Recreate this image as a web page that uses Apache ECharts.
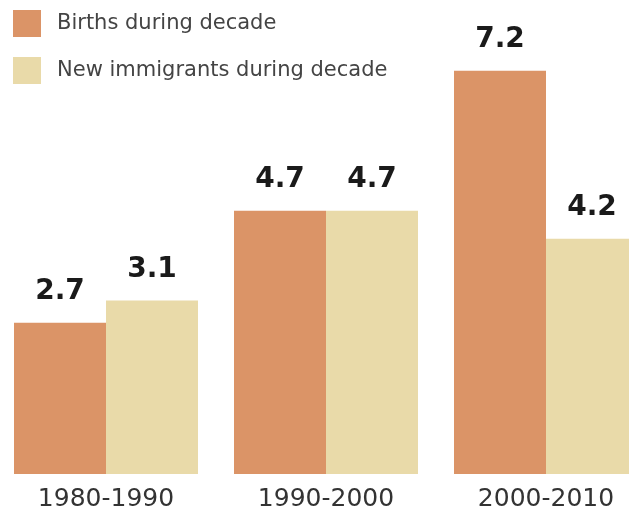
<!DOCTYPE html>
<html>
<head>
<meta charset="utf-8">
<script src="https://cdn.jsdelivr.net/npm/echarts@6/dist/echarts.min.js"></script>
<style>
  html, body { margin: 0; padding: 0; background: #fff; overflow: hidden; }
  #main { width: 660px; height: 517px; margin-left: -4px; }
</style>
</head>
<body>
<div id="main"></div>
<script>
var decades = ['1980-1990', '1990-2000', '2000-2010'];
var births = [2.7, 4.7, 7.2];
var immigrants = [3.1, 4.7, 4.2];

var myChart = echarts.init(document.getElementById('main'));

var labelStyle = {
    show: true,
    position: 'top',
    distance: 17,
    fontFamily: 'DejaVu Sans',
    fontWeight: 'bold',
    fontSize: 28,
    color: '#1a1a1a'
};

myChart.setOption({
    animation: false,
    legend: {
        orient: 'vertical',
        left: 17,
        top: 10,
        padding: 0,
        itemWidth: 28,
        itemHeight: 27,
        itemGap: 20,
        icon: 'rect',
        textStyle: {
            fontFamily: 'DejaVu Sans',
            fontSize: 21,
            color: '#444',
            padding: [0, 0, 2, 11]
        },
        data: ['Births during decade', 'New immigrants during decade']
    },
    grid: {
        left: 0,
        right: 0,
        top: 26,
        bottom: 43
    },
    xAxis: {
        type: 'category',
        data: decades,
        axisLine: { show: false },
        axisTick: { show: false },
        axisLabel: {
            margin: 13,
            fontFamily: 'DejaVu Sans',
            fontSize: 25,
            color: '#333'
        }
    },
    yAxis: {
        type: 'value',
        min: 0,
        max: 8,
        show: false
    },
    series: [{
        name: 'Births during decade',
        type: 'bar',
        data: births,
        barWidth: 92,
        barGap: '0%',
        itemStyle: { color: '#DB9467' },
        label: labelStyle
    }, {
        name: 'New immigrants during decade',
        type: 'bar',
        data: immigrants,
        barWidth: 92,
        barGap: '0%',
        itemStyle: { color: '#E9DAA9' },
        label: labelStyle
    }]
});
</script>
</body>
</html>
